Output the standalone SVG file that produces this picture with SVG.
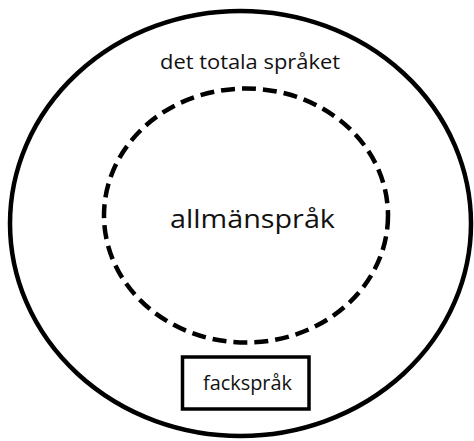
<svg xmlns="http://www.w3.org/2000/svg" width="474" height="441" viewBox="0 0 474 441">
<style>
.t{font-family:"Open Sans","Liberation Sans",sans-serif;fill:#111;text-anchor:middle}
</style>
<rect width="474" height="441" fill="#fff"/>
<g id="outer">
<ellipse cx="240.5" cy="223.5" rx="230.5" ry="212.5" fill="none" stroke="#000" stroke-width="4.5"/>
<text class="t" x="250" y="69" font-size="20" textLength="180" lengthAdjust="spacingAndGlyphs">det totala språket</text>
</g>
<g id="inner">
<ellipse cx="246" cy="215.5" rx="142" ry="127" fill="none" stroke="#000" stroke-width="4.5" stroke-dasharray="14,7"/>
<text class="t" x="252.5" y="228" font-size="26" textLength="165" lengthAdjust="spacingAndGlyphs">allmänspråk</text>
</g>
<g id="fack">
<rect x="182.5" y="357" width="126.5" height="52" fill="#fff" stroke="#000" stroke-width="3.5"/>
<text class="t" x="247.5" y="390" font-size="20" textLength="89" lengthAdjust="spacingAndGlyphs">fackspråk</text>
</g>
<g id="connectors"></g>
</svg>
